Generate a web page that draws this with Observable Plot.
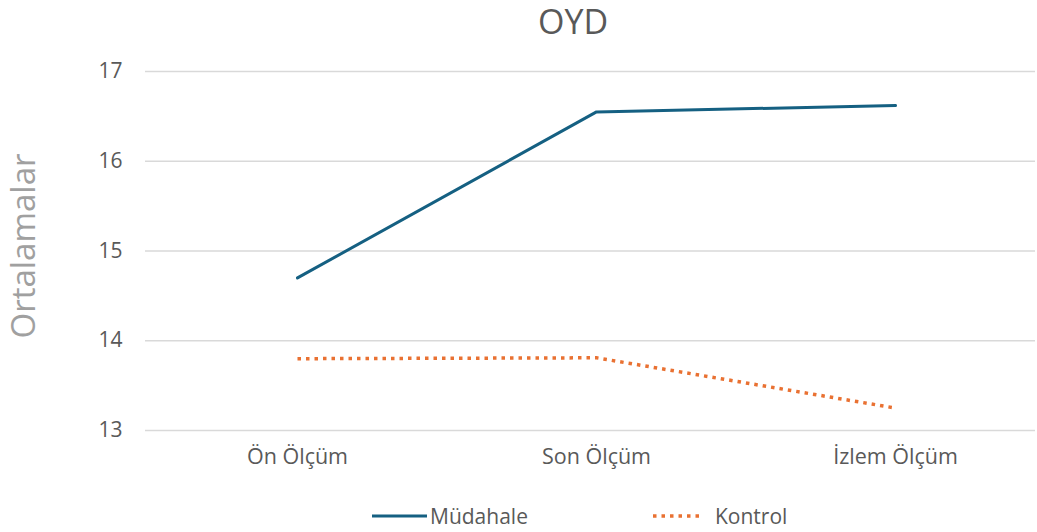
<!DOCTYPE html>
<html>
<head>
<meta charset="utf-8">
<script src="https://cdn.jsdelivr.net/npm/d3@7"></script>
<script src="https://cdn.jsdelivr.net/npm/@observablehq/plot@0.6"></script>
<style>
  html, body { margin: 0; padding: 0; background: #fff; }
  body { position: relative; width: 1037px; height: 532px; overflow: hidden; font-family: "Open Sans", sans-serif; }
  #title { position: absolute; top: 4px; left: 573px; transform: translateX(-50%); font-size: 34px; line-height: 34px; color: #595959; white-space: nowrap; }
  #chart { position: absolute; top: 45px; left: 0; }
  #legend { position: absolute; top: 503px; left: 0; width: 1037px; height: 26px; }
  .item { position: absolute; top: 0; display: flex; align-items: center; height: 26px; font-size: 21px; color: #595959; white-space: nowrap; }
  .item svg { display: block; }
</style>
</head>
<body>
<div id="title">OYD</div>
<div id="chart"></div>
<div id="legend"></div>
<script>
const categories = ["Ön Ölçüm", "Son Ölçüm", "İzlem Ölçüm"];
const seriesNames = ["Müdahale", "Kontrol"];
const mudahale = [14.70, 16.55, 16.62];
const kontrol = [13.80, 13.81, 13.25];
const yTicks = [13, 14, 15, 16, 17];
const colors = ["#156082", "#E97132"];

const rows = [];
categories.forEach((c, i) => {
  rows.push({ olcum: c, seri: seriesNames[0], deger: mudahale[i] });
  rows.push({ olcum: c, seri: seriesNames[1], deger: kontrol[i] });
});

const chart = Plot.plot({
  width: 1037,
  height: 445,
  marginLeft: 145,
  marginRight: 2,
  marginTop: 26,
  marginBottom: 60,
  style: { fontFamily: "Open Sans, sans-serif", background: "transparent", overflow: "visible" },
  x: { type: "point", domain: categories, range: [296, 895], padding: 0, label: null },
  y: { domain: [13, 17], ticks: yTicks, label: null },
  marks: [
    Plot.gridY(yTicks, { stroke: "#d9d9d9", strokeOpacity: 1, strokeWidth: 1.3 }),
    Plot.axisY(yTicks, { tickSize: 0, tickPadding: 23, fontSize: 21, fill: "#595959", label: null, tickFormat: d3.format("d") }),
    Plot.axisX({ tickSize: 0, tickPadding: 18, fontSize: 21.5, fill: "#595959", label: null }),
    Plot.text(["Ortalamalar"], { frameAnchor: "left", textAnchor: "middle", rotate: -90, dx: -121, dy: -5, fontSize: 33, fill: "#a0a0a0" }),
    Plot.lineY(rows.filter(d => d.seri === seriesNames[0]), { x: "olcum", y: "deger", stroke: colors[0], strokeWidth: 3 }),
    Plot.lineY(rows.filter(d => d.seri === seriesNames[1]), { x: "olcum", y: "deger", stroke: colors[1], strokeWidth: 3.5, strokeDasharray: "3.5,5", strokeLinecap: "butt" })
  ]
});
document.getElementById("chart").appendChild(chart);

// legend
const legend = document.getElementById("legend");
const legendSpec = [
  { name: seriesNames[0], color: colors[0], left: 372, sw: 55, gap: 3, dash: null, w: 3 },
  { name: seriesNames[1], color: colors[1], left: 653, sw: 50, gap: 12, dash: "3.5,5", w: 3.5 }
];
legendSpec.forEach(s => {
  const item = document.createElement("div");
  item.className = "item";
  item.style.left = s.left + "px";
  const svg = d3.create("svg").attr("width", s.sw).attr("height", 26);
  svg.append("line").attr("x1", 0).attr("x2", s.sw).attr("y1", 13).attr("y2", 13)
    .attr("stroke", s.color).attr("stroke-width", s.w)
    .attr("stroke-dasharray", s.dash);
  item.appendChild(svg.node());
  const label = document.createElement("span");
  label.textContent = s.name;
  label.style.marginLeft = s.gap + "px";
  item.appendChild(label);
  legend.appendChild(item);
});
</script>
</body>
</html>
